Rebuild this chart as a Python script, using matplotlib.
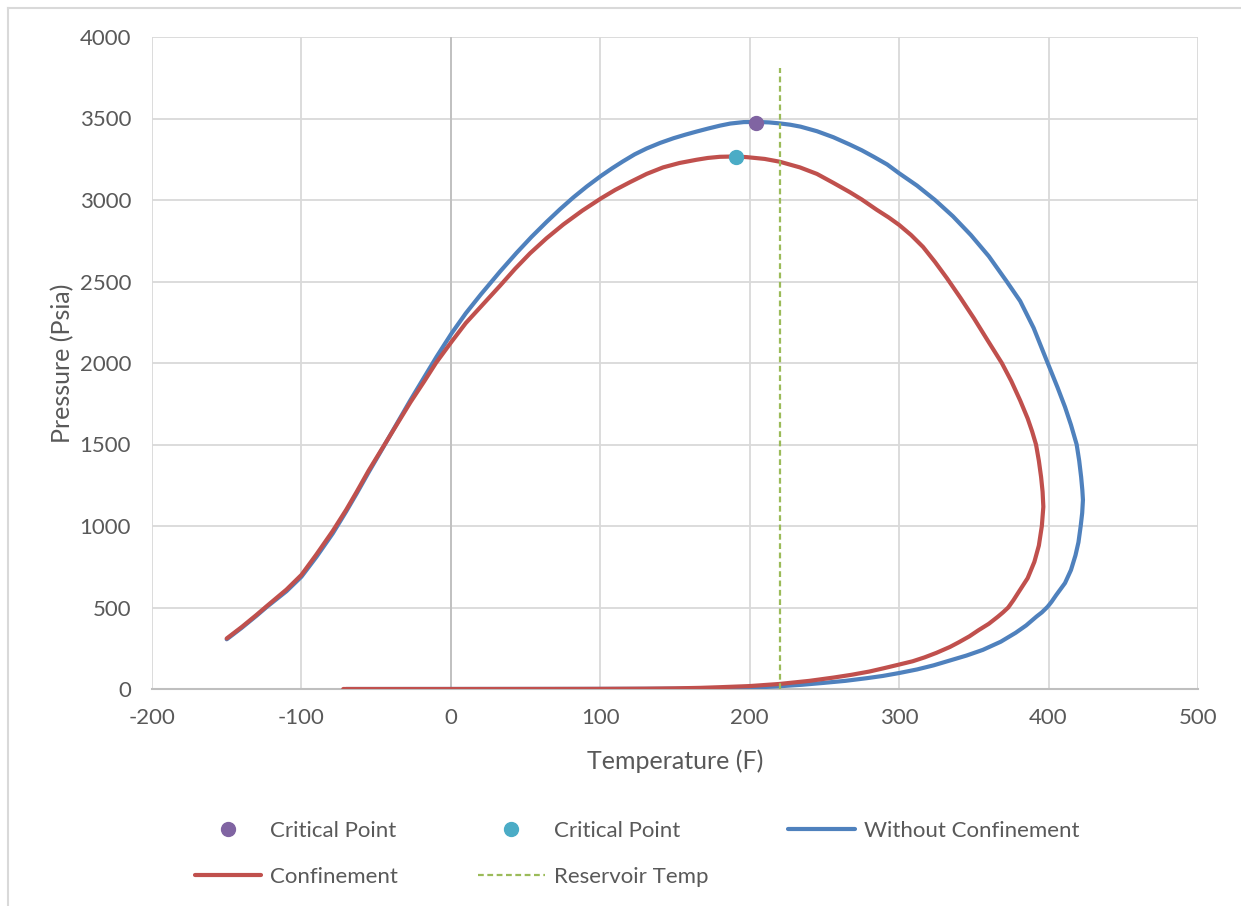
import matplotlib
matplotlib.use("Agg")
import matplotlib.pyplot as plt
from matplotlib.lines import Line2D

plt.rcParams['font.family'] = ['Lato', 'DejaVu Sans']
plt.rcParams['axes.unicode_minus'] = False

# ---- data ----
blue_T = [-150, -140, -130, -123, -110, -100, -90, -79, -70, -63, -55, -45, -36, -27, -18, -9.5,
          0.5, 10, 20, 33, 44, 54, 64, 73, 82, 91, 100.5, 108, 115, 123, 131, 140, 149, 157,
          164.5, 172, 180, 187, 196, 205, 213, 220, 227, 234, 245, 256, 267, 275, 283, 292,
          300, 312, 324, 336, 348, 360, 372, 381, 390, 399.4, 406, 411, 415, 418.8, 420.5, 421.8,
          422.6, 423, 422.5, 421.5, 420, 418, 415, 411, 405, 402, 399.4, 395.5, 392, 385, 378,
          368, 356, 345, 334, 323, 312, 300, 289, 278, 264, 250, 235, 220, 205, 190, 167, 140,
          120, 90, 50, 10, -20, -50, -70]
blue_P = [305, 375, 450, 505, 600, 689, 810, 955, 1090, 1200, 1330, 1487, 1630, 1773, 1910, 2039,
          2182, 2305, 2420, 2562, 2676, 2774, 2865, 2943, 3016, 3083, 3148, 3195, 3236, 3280, 3316, 3350, 3379, 3401,
          3420, 3438, 3456, 3469, 3478, 3479, 3476, 3470, 3462, 3450, 3422, 3385, 3340, 3305, 3265, 3218,
          3164, 3088, 3000, 2900, 2785, 2655, 2500, 2380, 2215, 2000, 1850, 1730, 1620, 1500, 1400, 1300,
          1220, 1160, 1080, 1000, 900, 820, 730, 650, 575, 535, 505, 470, 445, 390, 345,
          290, 240, 205, 175, 145, 120, 98, 80, 66, 50, 38, 26, 17, 10, 6, 3, 1.5,
          1, 0.6, 0.4, 0.2, 0.1, 0, 0]

red_T = [-150, -140, -130, -123, -110, -100, -90, -79, -70, -63, -55, -45, -36, -27, -18, -10,
         0.5, 10, 20, 33, 43, 53, 64, 75.3, 88, 100.5, 110, 120, 131, 142, 153, 164.5, 172,
         180, 190, 198, 210, 220, 233.6, 245, 256, 267, 275, 285, 293, 300, 308, 316, 324, 332,
         341, 350, 359, 368.7, 375, 381, 386, 389, 391.6, 393.5, 395, 396, 396.5, 395.5, 393.5,
         390.5, 386, 380, 376.5, 373, 369.5, 366, 360, 353, 347, 340, 334, 325, 317, 309, 300,
         290, 280, 268, 256, 240, 220, 200, 180, 167, 150, 130, 100, 70, 40, 0, -40, -72]
red_P = [310, 380, 455, 510, 610, 700, 825, 970, 1100, 1210, 1340, 1490, 1625, 1760, 1885, 2000,
         2131, 2245, 2345, 2475, 2578, 2673, 2765, 2850, 2935, 3010, 3062, 3110, 3160, 3200, 3227, 3247, 3258,
         3265, 3267, 3263, 3252, 3235, 3200, 3160, 3105, 3048, 3003, 2940, 2893, 2847, 2785, 2712, 2620, 2520,
         2400, 2275, 2142, 2000, 1890, 1770, 1660, 1580, 1500, 1400, 1300, 1210, 1118, 1000, 880,
         780, 680, 595, 545, 500, 470, 443, 400, 360, 323, 287, 258, 222, 194, 170, 150,
         128, 107, 87, 70, 50, 31, 18, 11, 7, 4, 2, 0.8, 0.4, 0.2, 0, 0, 0]

crit_T = [204]
crit_P = [3474]
crit_conf_T = [191]
crit_conf_P = [3266]

res_T = [220, 220]
res_P = [0, 3810]

xticks = [-200, -100, 0, 100, 200, 300, 400, 500]
yticks = [0, 500, 1000, 1500, 2000, 2500, 3000, 3500, 4000]

# ---- colours ----
c_blue = '#4F81BD'
c_red = '#C0504D'
c_green = '#9BBB59'
c_purple = '#8064A2'
c_cyan = '#4BACC6'
c_text = '#595959'

fig = plt.figure(figsize=(12.41, 9.06), dpi=100)
ax = fig.add_axes([152/1241, 1-689/906, (1198-152)/1241, (689-37)/906])

mk_purple, = ax.plot(crit_T, crit_P, 'o', color=c_purple, ms=10, zorder=5, label='Critical Point')
mk_cyan, = ax.plot(crit_conf_T, crit_conf_P, 'o', color=c_cyan, ms=10, zorder=5, label='Critical Point')
ln_blue, = ax.plot(blue_T, blue_P, color=c_blue, lw=3.0, solid_capstyle='round',
                   solid_joinstyle='round', zorder=3, label='Without Confinement')
ln_red, = ax.plot(red_T, red_P, color=c_red, lw=3.0, solid_capstyle='round',
                  solid_joinstyle='round', zorder=4, label='Confinement')
ln_res, = ax.plot(res_T, res_P, color=c_green, lw=1.6, dashes=(2.6, 1.6), zorder=4,
                  label='Reservoir Temp')

ax.set_xlim(-200, 500)
ax.set_ylim(0, 4000)
ax.set_xticks(xticks)
ax.set_yticks(yticks)
ax.grid(True, color='#D9D9D9', lw=1.3, zorder=0)
ax.set_axisbelow(True)
for s in ['left', 'right', 'top']:
    ax.spines[s].set_visible(False)
ax.spines['bottom'].set_color('#BFBFBF')
ax.spines['bottom'].set_linewidth(1.5)
ax.axvline(0, color='#BFBFBF', lw=1.3, zorder=1)
ax.tick_params(length=0, labelsize=16, labelcolor=c_text)
ax.tick_params(axis='y', pad=15)
ax.tick_params(axis='x', pad=14)
ax.set_xlabel('Temperature (F)', fontsize=18, color=c_text, labelpad=15)
ax.set_ylabel('Pressure (Psia)', fontsize=18, color=c_text, labelpad=4)

handles = [mk_purple, ln_red, mk_cyan, ln_res, ln_blue]
labels = ['Critical Point', 'Confinement', 'Critical Point', 'Reservoir Temp', 'Without Confinement']
leg = fig.legend(handles, labels, ncol=3, loc='center', bbox_to_anchor=(637/1241, 1-854/906),
                 frameon=False, fontsize=16, handlelength=3.0, columnspacing=3.6,
                 labelspacing=1.15, handletextpad=0.4, labelcolor=c_text)

# outer chart border
fig.add_artist(Line2D([8/1241, 8/1241], [0, 1-8/906], transform=fig.transFigure,
                      color='#D9D9D9', lw=1.5))
fig.add_artist(Line2D([8/1241, 1], [1-8/906, 1-8/906], transform=fig.transFigure,
                      color='#D9D9D9', lw=1.5))

fig.savefig('out.png', dpi=100)
